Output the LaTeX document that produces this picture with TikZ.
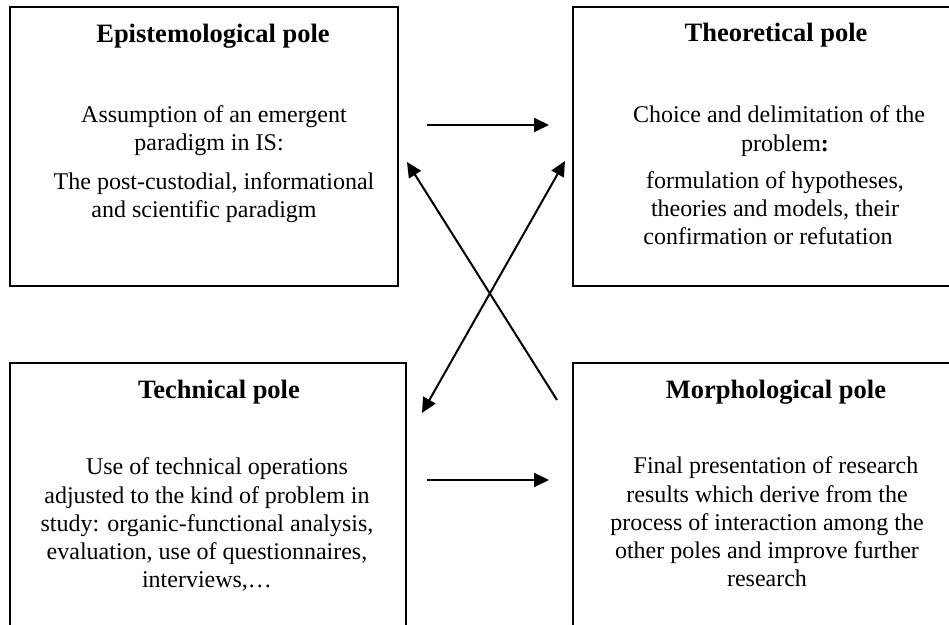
\documentclass[tikz,border=0pt]{standalone}
\usepackage{fontspec}
\setmainfont{Liberation Serif}
\usetikzlibrary{arrows.meta}
\newcommand\colorPole{black}
\newcommand\poleLine{0.9pt}
\newcommand\arrowLine{1pt}
\newcommand\bodyFont{\fontsize{12}{14.15}\selectfont}
\newcommand\titleFont{\fontsize{13.25}{16}\selectfont\bfseries}
\tikzset{
	poleFrame/.style={draw=\colorPole, line width=\poleLine, inner sep=0pt},
	poleTitle/.style={anchor=base, inner sep=0pt, font=\titleFont},
	poleText/.style={anchor=base, inner sep=0pt, align=center, font=\bodyFont},
	poleArrow/.style={draw=\colorPole, line width=\arrowLine, -{Triangle[length=7.5pt,width=7pt]}},
}
\begin{document}
\begin{tikzpicture}[x=0.5pt, y=-0.5pt]
	\useasboundingbox (0,0) rectangle (949,625);
	\clip (0,0) rectangle (949,625);

	% the four poles
	\node[poleFrame, minimum width=194pt, minimum height=139.5pt] (epist) at (204,146.5) {};
	\node[poleFrame, minimum width=193.5pt, minimum height=139.5pt] (theor) at (766.5,146.5) {};
	\node[poleFrame, minimum width=198pt, minimum height=138.5pt] (tech) at (208,501.5) {};
	\node[poleFrame, minimum width=193.5pt, minimum height=138.5pt] (morph) at (766.5,501.5) {};

	\node[poleTitle] (epistTitle) at (213,43) {Epistemological pole};
	\node[poleTitle] (theorTitle) at (776,42) {Theoretical pole};
	\node[poleTitle] (techTitle) at (219,399) {Technical pole};
	\node[poleTitle] (morphTitle) at (776,399) {Morphological pole};

	% base of a text node is its last line
	\node[poleText] (epistText) at (209,218) {\hspace*{5pt}Assumption of an emergent\\
		paradigm in IS:\hspace*{6pt}\\[5.5pt]
		\hspace*{5pt}The post-custodial, informational\\
		and scientific paradigm\hspace*{5pt}};
	\node[poleText] (theorText) at (775,245) {\hspace*{4pt}Choice and delimitation of the\\
		\hspace*{10pt}problem\textbf{:}\\[4.5pt]
		formulation of hypotheses,\\
		theories and models, their\hspace*{21pt}\\
		confirmation or refutation\hspace*{7pt}};
	\node[poleText] (techText) at (207,588) {\hspace*{10pt}Use of technical operations\\
		adjusted to the kind of problem in\\
		study: organic-functional analysis,\\
		evaluation, use of questionnaires,\\
		interviews,\dots};
	\node[poleText] (morphText) at (767,587) {\hspace*{9pt}Final presentation of research\\
		results which derive from the\\
		process of interaction among the\\
		other poles and improve further\\
		research};

	% arrows between the poles
	\foreach \y/\n in {125/top,480/bot}{
		\coordinate (\n W) at (427,\y);
		\coordinate (\n E) at (549,\y);
		\draw[poleArrow] (\n W) -- (\n E);
	}
	\coordinate (crossA) at (557,400);
	\coordinate (crossB) at (407,162);
	\coordinate (crossC) at (422,413);
	\coordinate (crossD) at (565,161);
	\draw[poleArrow] (crossA) -- (crossB);
	\draw[poleArrow, {Triangle[length=7.5pt,width=7pt]}-{Triangle[length=7.5pt,width=7pt]}] (crossC) -- (crossD);
\end{tikzpicture}
\end{document}
